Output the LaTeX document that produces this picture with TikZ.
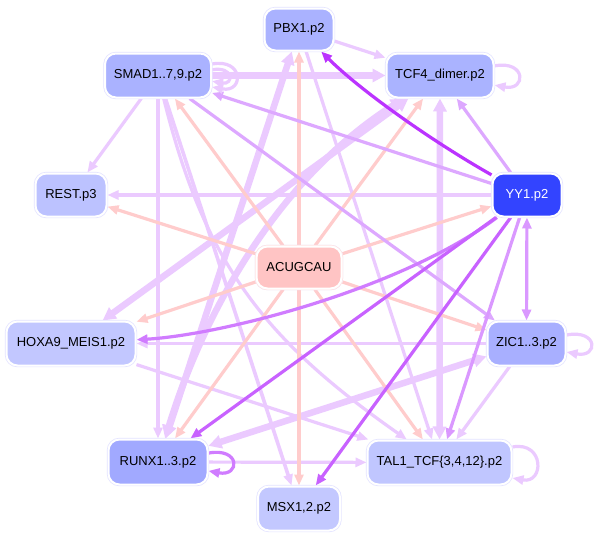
\documentclass[tikz,border=0pt]{standalone}
\usepackage{fontspec}
\setmainfont{Liberation Sans}
\usetikzlibrary{arrows.meta}
\pgfdeclarelayer{back}
\pgfdeclarelayer{edges}
\pgfsetlayers{back,edges,main}
\definecolor{pinkE}{HTML}{FFCCCC}
\definecolor{lilE}{HTML}{EBCAFF}
\definecolor{medE}{HTML}{DDA8FF}
\definecolor{med2E}{HTML}{DA98FF}
\definecolor{purE}{HTML}{D07CFF}
\definecolor{strE}{HTML}{BB33FF}
\definecolor{str2E}{HTML}{C862FF}
\definecolor{ndline}{HTML}{E2E2FF}
\definecolor{ndlineP}{HTML}{FFE4E4}
\definecolor{cPBX}{HTML}{AAB2FF}
\definecolor{cSMAD}{HTML}{AAB2FF}
\definecolor{cTCF}{HTML}{AAB3FF}
\definecolor{cREST}{HTML}{BCC2FF}
\definecolor{cYY}{HTML}{3344FF}
\definecolor{cACU}{HTML}{FFC4C4}
\definecolor{cHOX}{HTML}{C2C7FF}
\definecolor{cZIC}{HTML}{A8AFFF}
\definecolor{cRUNX}{HTML}{A1A9FF}
\definecolor{cTAL}{HTML}{C0C6FF}
\definecolor{cMSX}{HTML}{C3C8FF}
\tikzset{
  nd/.style={rounded corners=11pt, inner sep=0pt, font=\fontsize{13}{15}\selectfont,
    draw=white, line width=2pt, preaction={draw=ndline, line width=3.4pt}, text=black},
  tipA/.style={-{Triangle[length=11pt,width=9pt]}},
  tipB/.style={{Triangle[length=11pt,width=9pt]}-{Triangle[length=11pt,width=9pt]}},
  ePink/.style={draw=pinkE, line width=3.2pt, tipA},
  eLil/.style={draw=lilE, line width=3.2pt, tipA},
  eMed/.style={draw=medE, line width=3.2pt, tipA},
  eMed2/.style={draw=med2E, line width=3.2pt, tipA},
  ePur/.style={draw=purE, line width=3.2pt, tipA},
  eStr/.style={draw=strE, line width=3.2pt, tipA},
  eStr2/.style={draw=str2E, line width=3.2pt, tipA},
  eThick/.style={draw=lilE, line width=6.5pt, {Triangle[length=13pt,width=13pt]}-{Triangle[length=13pt,width=13pt]}},
  eThickOne/.style={draw=lilE, line width=6.5pt, -{Triangle[length=13pt,width=13pt]}},
}
\begin{document}
\begin{tikzpicture}[x=1pt,y=-1pt]
\begin{pgfonlayer}{back}
\fill[white] (0,0) rectangle (598,538);
\end{pgfonlayer}
\useasboundingbox (0,0) rectangle (598,538);

\node[nd, fill=cPBX, minimum width=69pt, minimum height=42pt] (pbx) at (299,29.5) {PBX1.p2};
\node[nd, fill=cSMAD, minimum width=106pt, minimum height=44pt] (smad) at (158,75.5) {SMAD1..7,9.p2};
\node[nd, fill=cTCF, minimum width=107pt, minimum height=44pt] (tcf) at (440,75.5) {TCF4\_dimer.p2};
\node[nd, fill=cREST, minimum width=71pt, minimum height=43pt] (rest) at (71,195) {REST.p3};
\node[nd, fill=cYY, text=white, minimum width=69pt, minimum height=43pt] (yy) at (527,195) {YY1.p2};
\node[nd, fill=cACU, preaction={draw=ndlineP, line width=3.4pt}, minimum width=85pt, minimum height=42pt] (acu) at (299,267.5) {ACUGCAU};
\node[nd, fill=cHOX, minimum width=129pt, minimum height=44pt] (hox) at (71,343.5) {HOXA9\_MEIS1.p2};
\node[nd, fill=cZIC, minimum width=78pt, minimum height=44pt] (zic) at (526.5,343.5) {ZIC1..3.p2};
\node[nd, fill=cRUNX, minimum width=99pt, minimum height=45pt] (runx) at (158,462) {RUNX1..3.p2};
\node[nd, fill=cTAL, minimum width=144pt, minimum height=44pt] (tal) at (439.5,462.5) {TAL1\_TCF\{3,4,12\}.p2};
\node[nd, fill=cMSX, minimum width=82pt, minimum height=44pt] (msx) at (299,508.5) {MSX1,2.p2};

\begin{pgfonlayer}{edges}
% thick edges
\draw[eThickOne] (smad) -- (tcf);
\draw[eThick] (pbx) -- (runx);
\draw[eThick] (tcf) -- (hox);
\draw[eThick] (tcf) .. controls (268,185) and (198,330) .. (runx);
\draw[eThick] (tcf) -- (tal);
\draw[eThick] (zic) -- (runx);
% light edges
\draw[eLil] (yy) -- (rest);
\draw[eLil] (smad) -- (rest);
\draw[eLil] (smad) -- (runx);
\draw[eLil, line width=3.6pt] (smad) -- (msx);
\draw[eLil] (smad) .. controls (205,265) and (265,340) .. (tal);
\draw[eLil] (pbx) -- (tcf);
\draw[eLil] (pbx) -- (tal);
\draw[eLil] (zic) -- (hox);
\draw[eLil] (zic) -- (tal);
\draw[eLil] (hox) -- (tal);
\draw[eLil] (runx) -- (tal);
% ACUGCAU edges
\foreach \t in {pbx,smad,tcf,rest,yy,hox,zic,runx,tal,msx}
  \draw[ePink] (acu) -- (\t);
% YY1 edges
\draw[eMed] (yy) -- (tcf);
\draw[eMed] (yy) -- (smad);
\draw[eMed] (smad) -- (zic);
\draw[eMed2] (yy) -- (tal);
\draw[eMed2, tipB] (yy) -- (zic);
\draw[ePur] (yy) .. controls (400,290) and (220,335) .. (hox);
\draw[eStr2] (yy) -- (runx);
\draw[eStr2] (yy) -- (msx);
\draw[eStr] (yy) .. controls (430,140) and (360,90) .. (pbx);
% self loops
\draw[eLil] (smad.12) .. controls +(32,-6) and +(32,6) .. (smad.-12);
\draw[eLil] (smad.6) .. controls +(22,-4) and +(22,4) .. (smad.-6);
\draw[eLil] (tcf.10) .. controls +(32,-6) and +(32,6) .. (tcf.-10);
\draw[eLil] (zic.12) .. controls +(32,-6) and +(32,6) .. (zic.-12);
\draw[eLil] (tal.12) .. controls +(32,-6) and +(32,6) .. (tal.-12);
\draw[ePur] (runx.10) .. controls +(32,-6) and +(32,6) .. (runx.-10);
\end{pgfonlayer}
\end{tikzpicture}
\end{document}
